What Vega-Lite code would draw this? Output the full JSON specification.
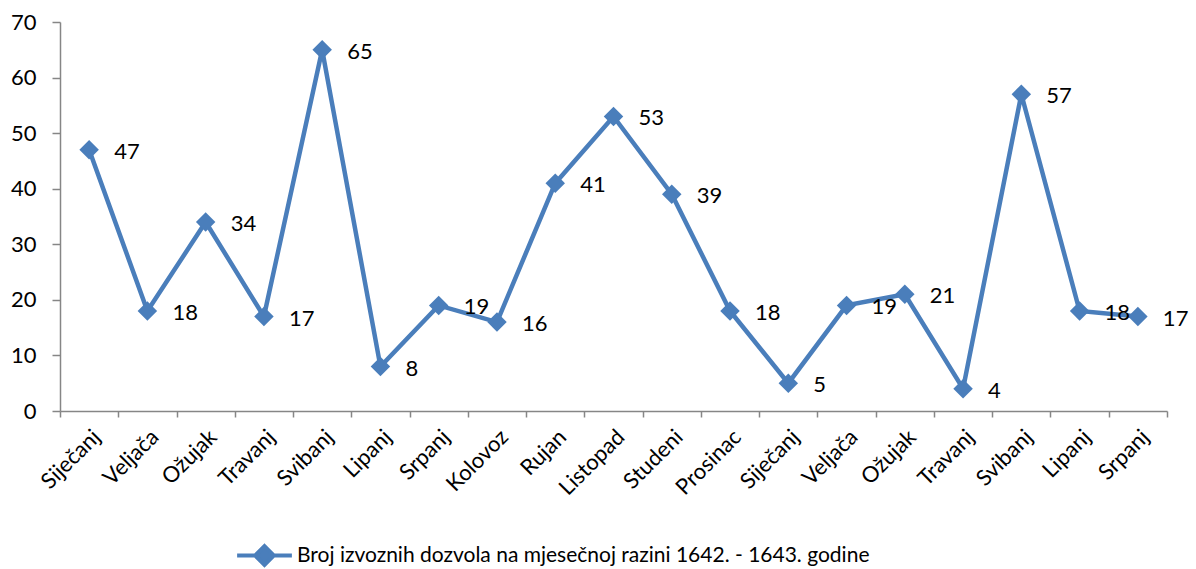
{
  "$schema": "https://vega.github.io/schema/vega-lite/v6.json",
  "autosize": "none",
  "width": 1107,
  "height": 389,
  "padding": {"left": 60, "top": 22, "right": 29, "bottom": 158},
  "background": "white",
  "config": {
    "view": {"stroke": null},
    "font": "Lato",
    "axis": {"grid": false, "domainColor": "#868686", "tickColor": "#868686", "labelColor": "#000000", "labelFont": "Lato", "labelFontSize": 22, "domainWidth": 1.5, "tickWidth": 1.5}
  },
  "data": {
    "values": [
      {"mjesec": "Siječanj 1642", "broj": 47},
      {"mjesec": "Veljača 1642", "broj": 18},
      {"mjesec": "Ožujak 1642", "broj": 34},
      {"mjesec": "Travanj 1642", "broj": 17},
      {"mjesec": "Svibanj 1642", "broj": 65},
      {"mjesec": "Lipanj 1642", "broj": 8},
      {"mjesec": "Srpanj 1642", "broj": 19},
      {"mjesec": "Kolovoz 1642", "broj": 16},
      {"mjesec": "Rujan 1642", "broj": 41},
      {"mjesec": "Listopad 1642", "broj": 53},
      {"mjesec": "Studeni 1642", "broj": 39},
      {"mjesec": "Prosinac 1642", "broj": 18},
      {"mjesec": "Siječanj 1643", "broj": 5},
      {"mjesec": "Veljača 1643", "broj": 19},
      {"mjesec": "Ožujak 1643", "broj": 21},
      {"mjesec": "Travanj 1643", "broj": 4},
      {"mjesec": "Svibanj 1643", "broj": 57},
      {"mjesec": "Lipanj 1643", "broj": 18},
      {"mjesec": "Srpanj 1643", "broj": 17}
    ]
  },
  "encoding": {
    "x": {
      "field": "mjesec", "type": "ordinal", "sort": null,
      "scale": {"paddingInner": 0, "paddingOuter": 0},
      "axis": {"title": null, "labelAngle": -45, "labelExpr": "isValid(datum.value) ? split(datum.value, ' ')[0] : ''", "tickBand": "extent", "tickSize": 6, "labelPadding": 9}
    },
    "y": {
      "field": "broj", "type": "quantitative",
      "scale": {"domain": [0, 70]},
      "axis": {"title": null, "values": [0, 10, 20, 30, 40, 50, 60, 70], "tickSize": 8, "labelPadding": 16}
    }
  },
  "layer": [
    {
      "mark": {"type": "line", "strokeWidth": 4.5},
      "encoding": {
        "color": {
          "datum": "Broj izvoznih dozvola na mjesečnoj razini 1642. - 1643. godine",
          "type": "nominal",
          "scale": {"range": ["#4A7EBB"]},
          "legend": {
            "title": null, "orient": "none", "legendX": 175, "legendY": 504,
            "symbolType": "M-1,0H1M0,-0.34L0.34,0L0,0.34L-0.34,0Z",
            "symbolSize": 3000, "symbolStrokeWidth": 4, "symbolFillColor": "#4A7EBB", "symbolStrokeColor": "#4A7EBB",
            "labelFont": "Lato", "labelFontSize": 21, "labelColor": "#000000", "labelLimit": 900, "labelOffset": 3,
            "encode": {"symbols": {"update": {"stroke": {"value": "#4A7EBB"}, "strokeWidth": {"value": 4}, "fill": {"value": "#4A7EBB"}, "opacity": {"value": 1}, "strokeOpacity": {"value": 1}}}}
          }
        }
      }
    },
    {
      "mark": {"type": "point", "shape": "diamond", "size": 380, "filled": true, "opacity": 1, "color": "#4A7EBB"}
    },
    {
      "mark": {"type": "text", "align": "left", "baseline": "middle", "dx": 25, "dy": 2, "fontSize": 22, "font": "Lato", "color": "#000000"},
      "encoding": {"text": {"field": "broj", "type": "quantitative"}}
    }
  ]
}
